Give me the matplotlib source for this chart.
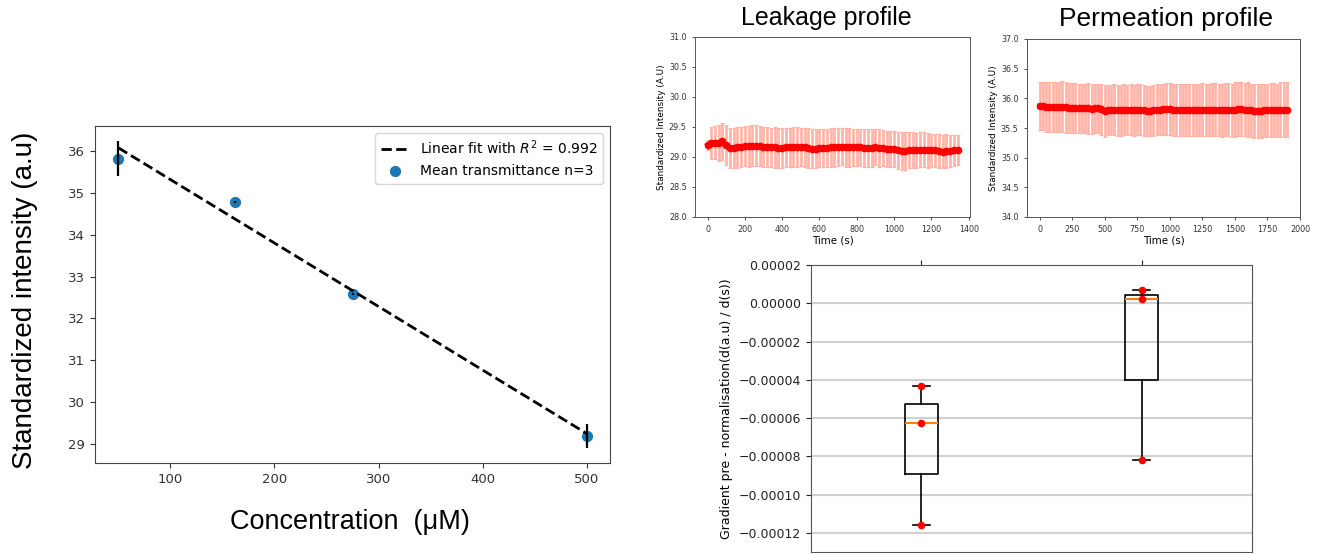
import numpy as np
import matplotlib
matplotlib.use("Agg")
import matplotlib.pyplot as plt
from matplotlib.ticker import FuncFormatter, MultipleLocator

# ---------------- data ----------------
# calibration: standardized intensity vs concentration
conc = [50, 162.5, 275, 500]
intensity = [35.82, 34.78, 32.58, 29.18]
intensity_err = [0.42, 0.02, 0.02, 0.28]
r_squared = 0.992

# leakage profile (sampled every 20 s)
leak_time = np.arange(0, 1360, 20)
leak_mean = [29.20, 29.23, 29.24, 29.24, 29.26, 29.20, 29.15, 29.15, 29.16, 29.17,
             29.18, 29.18, 29.19, 29.19, 29.18, 29.17, 29.17, 29.16, 29.16, 29.15,
             29.15, 29.16, 29.16, 29.17, 29.17, 29.17, 29.16, 29.15, 29.14, 29.14,
             29.15, 29.15, 29.15, 29.16, 29.16, 29.17, 29.17, 29.16, 29.16, 29.16,
             29.16, 29.16, 29.15, 29.15, 29.15, 29.16, 29.15, 29.15, 29.14, 29.14,
             29.13, 29.11, 29.10, 29.10, 29.11, 29.11, 29.11, 29.12, 29.12, 29.11,
             29.11, 29.11, 29.10, 29.09, 29.10, 29.10, 29.11, 29.12]
leak_err = [0.08, 0.27, 0.28, 0.30, 0.31, 0.33, 0.34, 0.34, 0.34, 0.33,
            0.33, 0.34, 0.34, 0.34, 0.33, 0.33, 0.33, 0.33, 0.34, 0.33,
            0.33, 0.33, 0.32, 0.33, 0.33, 0.32, 0.33, 0.33, 0.33, 0.32,
            0.32, 0.32, 0.32, 0.32, 0.32, 0.32, 0.31, 0.32, 0.32, 0.31,
            0.31, 0.31, 0.31, 0.31, 0.31, 0.30, 0.31, 0.30, 0.30, 0.30,
            0.30, 0.31, 0.31, 0.31, 0.30, 0.30, 0.29, 0.29, 0.29, 0.29,
            0.28, 0.28, 0.28, 0.28, 0.28, 0.27, 0.26, 0.25]

# permeation profile (sampled every 25 s)
perm_time = np.arange(0, 1925, 25)
perm_mean = [35.87, 35.87, 35.86, 35.86, 35.85, 35.85, 35.86, 35.86, 35.85, 35.84,
             35.84, 35.84, 35.83, 35.83, 35.83, 35.83, 35.82, 35.83, 35.83, 35.82,
             35.79, 35.80, 35.81, 35.81, 35.80, 35.80, 35.81, 35.81, 35.81, 35.80,
             35.81, 35.81, 35.80, 35.79, 35.79, 35.80, 35.81, 35.81, 35.82, 35.82,
             35.82, 35.81, 35.81, 35.81, 35.80, 35.80, 35.81, 35.81, 35.80, 35.81,
             35.81, 35.81, 35.80, 35.81, 35.81, 35.80, 35.80, 35.81, 35.81, 35.80,
             35.81, 35.82, 35.82, 35.81, 35.81, 35.80, 35.79, 35.79, 35.79, 35.80,
             35.80, 35.80, 35.80, 35.80, 35.81, 35.81, 35.81]
perm_err = [0.41, 0.41, 0.42, 0.42, 0.42, 0.42, 0.42, 0.43, 0.43, 0.42,
            0.42, 0.42, 0.42, 0.42, 0.42, 0.43, 0.42, 0.42, 0.42, 0.43,
            0.44, 0.42, 0.42, 0.43, 0.43, 0.43, 0.43, 0.42, 0.43, 0.43,
            0.43, 0.43, 0.43, 0.42, 0.42, 0.43, 0.43, 0.43, 0.43, 0.44,
            0.44, 0.44, 0.44, 0.44, 0.44, 0.44, 0.44, 0.44, 0.44, 0.44,
            0.45, 0.44, 0.44, 0.45, 0.45, 0.44, 0.45, 0.45, 0.45, 0.45,
            0.46, 0.45, 0.45, 0.45, 0.46, 0.45, 0.46, 0.46, 0.46, 0.45,
            0.45, 0.46, 0.46, 0.45, 0.46, 0.46, 0.46]

# gradient (pre-normalisation) per replicate
grad_leak = [-0.0001157, -0.0000625, -0.0000433]
grad_perm = [-0.0000820, 0.0000021, 0.0000070]

# ---------------- figure ----------------
W, H = 1327, 554
fig = plt.figure(figsize=(W / 100, H / 100), dpi=100)


def px_axes(left, top, right, bottom):
    return fig.add_axes([left / W, 1 - bottom / H, (right - left) / W, (bottom - top) / H])


big_font = ["Liberation Sans", "Arial", "DejaVu Sans"]

# --- calibration curve ---
ax = px_axes(95, 126, 610, 463)
slope, intercept = np.polyfit(conc, intensity, 1)
xfit = np.array([min(conc), max(conc)])
ax.plot(xfit, slope * xfit + intercept, "k--", lw=2, zorder=3,
        label=rf"Linear fit with $R^2$ = {r_squared}")
ax.scatter(conc, intensity, s=50, color="#1f77b4", zorder=2,
           label="Mean transmittance n=3")
ax.errorbar(conc, intensity, yerr=intensity_err, fmt="none", ecolor="black",
            elinewidth=1.6, zorder=4)
ax.tick_params(labelsize=9.5, colors="#333333")
ax.legend(loc="upper right", fontsize=10)
for s in ax.spines.values():
    s.set_color("#444444")
fig.text(25 / W, 1 - 300 / H, "Standardized intensity (a.u)", rotation=90,
         ha="center", va="center", fontsize=20, family=big_font)
fig.text(350 / W, 1 - 522 / H, "Concentration  (\u03bcM)", ha="center",
         va="center", fontsize=19.5, family=big_font)


def profile(ax, t, m, e, ylim, xstep):
    ax.errorbar(t, m, yerr=e, fmt="none", ecolor="#ffb2a6",
                elinewidth=1.9, capsize=1.6, capthick=0.8)
    ax.plot(t, m, "o-", color="red", ms=4.5, lw=3.5)
    ax.set_ylim(*ylim)
    ax.yaxis.set_major_locator(MultipleLocator(0.5))
    ax.xaxis.set_major_locator(MultipleLocator(xstep))
    ax.yaxis.set_major_formatter(FuncFormatter(lambda v, p: f"{v:.1f}"))
    ax.tick_params(labelsize=5.8, length=2.5, width=0.6, colors="#333333")
    ax.set_xlabel("Time (s)", fontsize=7.4, labelpad=1)
    ax.set_ylabel("Standardized Intensity (A.U)", fontsize=6.4, labelpad=2)
    for s in ax.spines.values():
        s.set_linewidth(0.7)
        s.set_color("#555555")


ax_l = px_axes(695, 37, 970, 217)
profile(ax_l, leak_time, leak_mean, leak_err, (28, 31), 200)
fig.text(826 / W, 1 - 18 / H, "Leakage profile", ha="center", va="center",
         fontsize=18, family=big_font)

ax_p = px_axes(1027, 39, 1300, 217)
profile(ax_p, perm_time, perm_mean, perm_err, (34, 37), 250)
ax_p.set_xlim(-96, 2000)
fig.text(1166 / W, 1 - 19 / H, "Permeation profile", ha="center", va="center",
         fontsize=19, family=big_font)

# --- gradient box plot ---
ax_b = px_axes(811, 265, 1252, 552)
ax_b.boxplot([grad_leak, grad_perm], positions=[1, 2],
             medianprops=dict(color="#ff7f0e", lw=1.5),
             boxprops=dict(lw=1.2), whiskerprops=dict(lw=1.2),
             capprops=dict(lw=1.2))
for pos, vals in zip([1, 2], [grad_leak, grad_perm]):
    ax_b.scatter([pos] * len(vals), vals, s=20, color="red", zorder=4)
ax_b.set_xlim(0.5, 2.5)
ax_b.set_ylim(-0.00013, 0.00002)
ax_b.yaxis.set_major_locator(MultipleLocator(0.00002))
ax_b.yaxis.set_major_formatter(
    FuncFormatter(lambda v, p: f"{v:.5f}".replace("-", "\u2212") if abs(v) > 1e-9 else "0.00000"))
ax_b.set_axisbelow(True)
ax_b.yaxis.grid(True, color="#d0d0d0", lw=1.5)
ax_b.tick_params(axis="x", top=True, bottom=False, labeltop=False, labelbottom=False)
ax_b.tick_params(labelsize=9, colors="#222222")
ax_b.set_ylabel("Gradient pre - normalisation(d(a.u) / d(s))", fontsize=9)
for s in ax_b.spines.values():
    s.set_color("#555555")

fig.savefig("out.png", dpi=100)
